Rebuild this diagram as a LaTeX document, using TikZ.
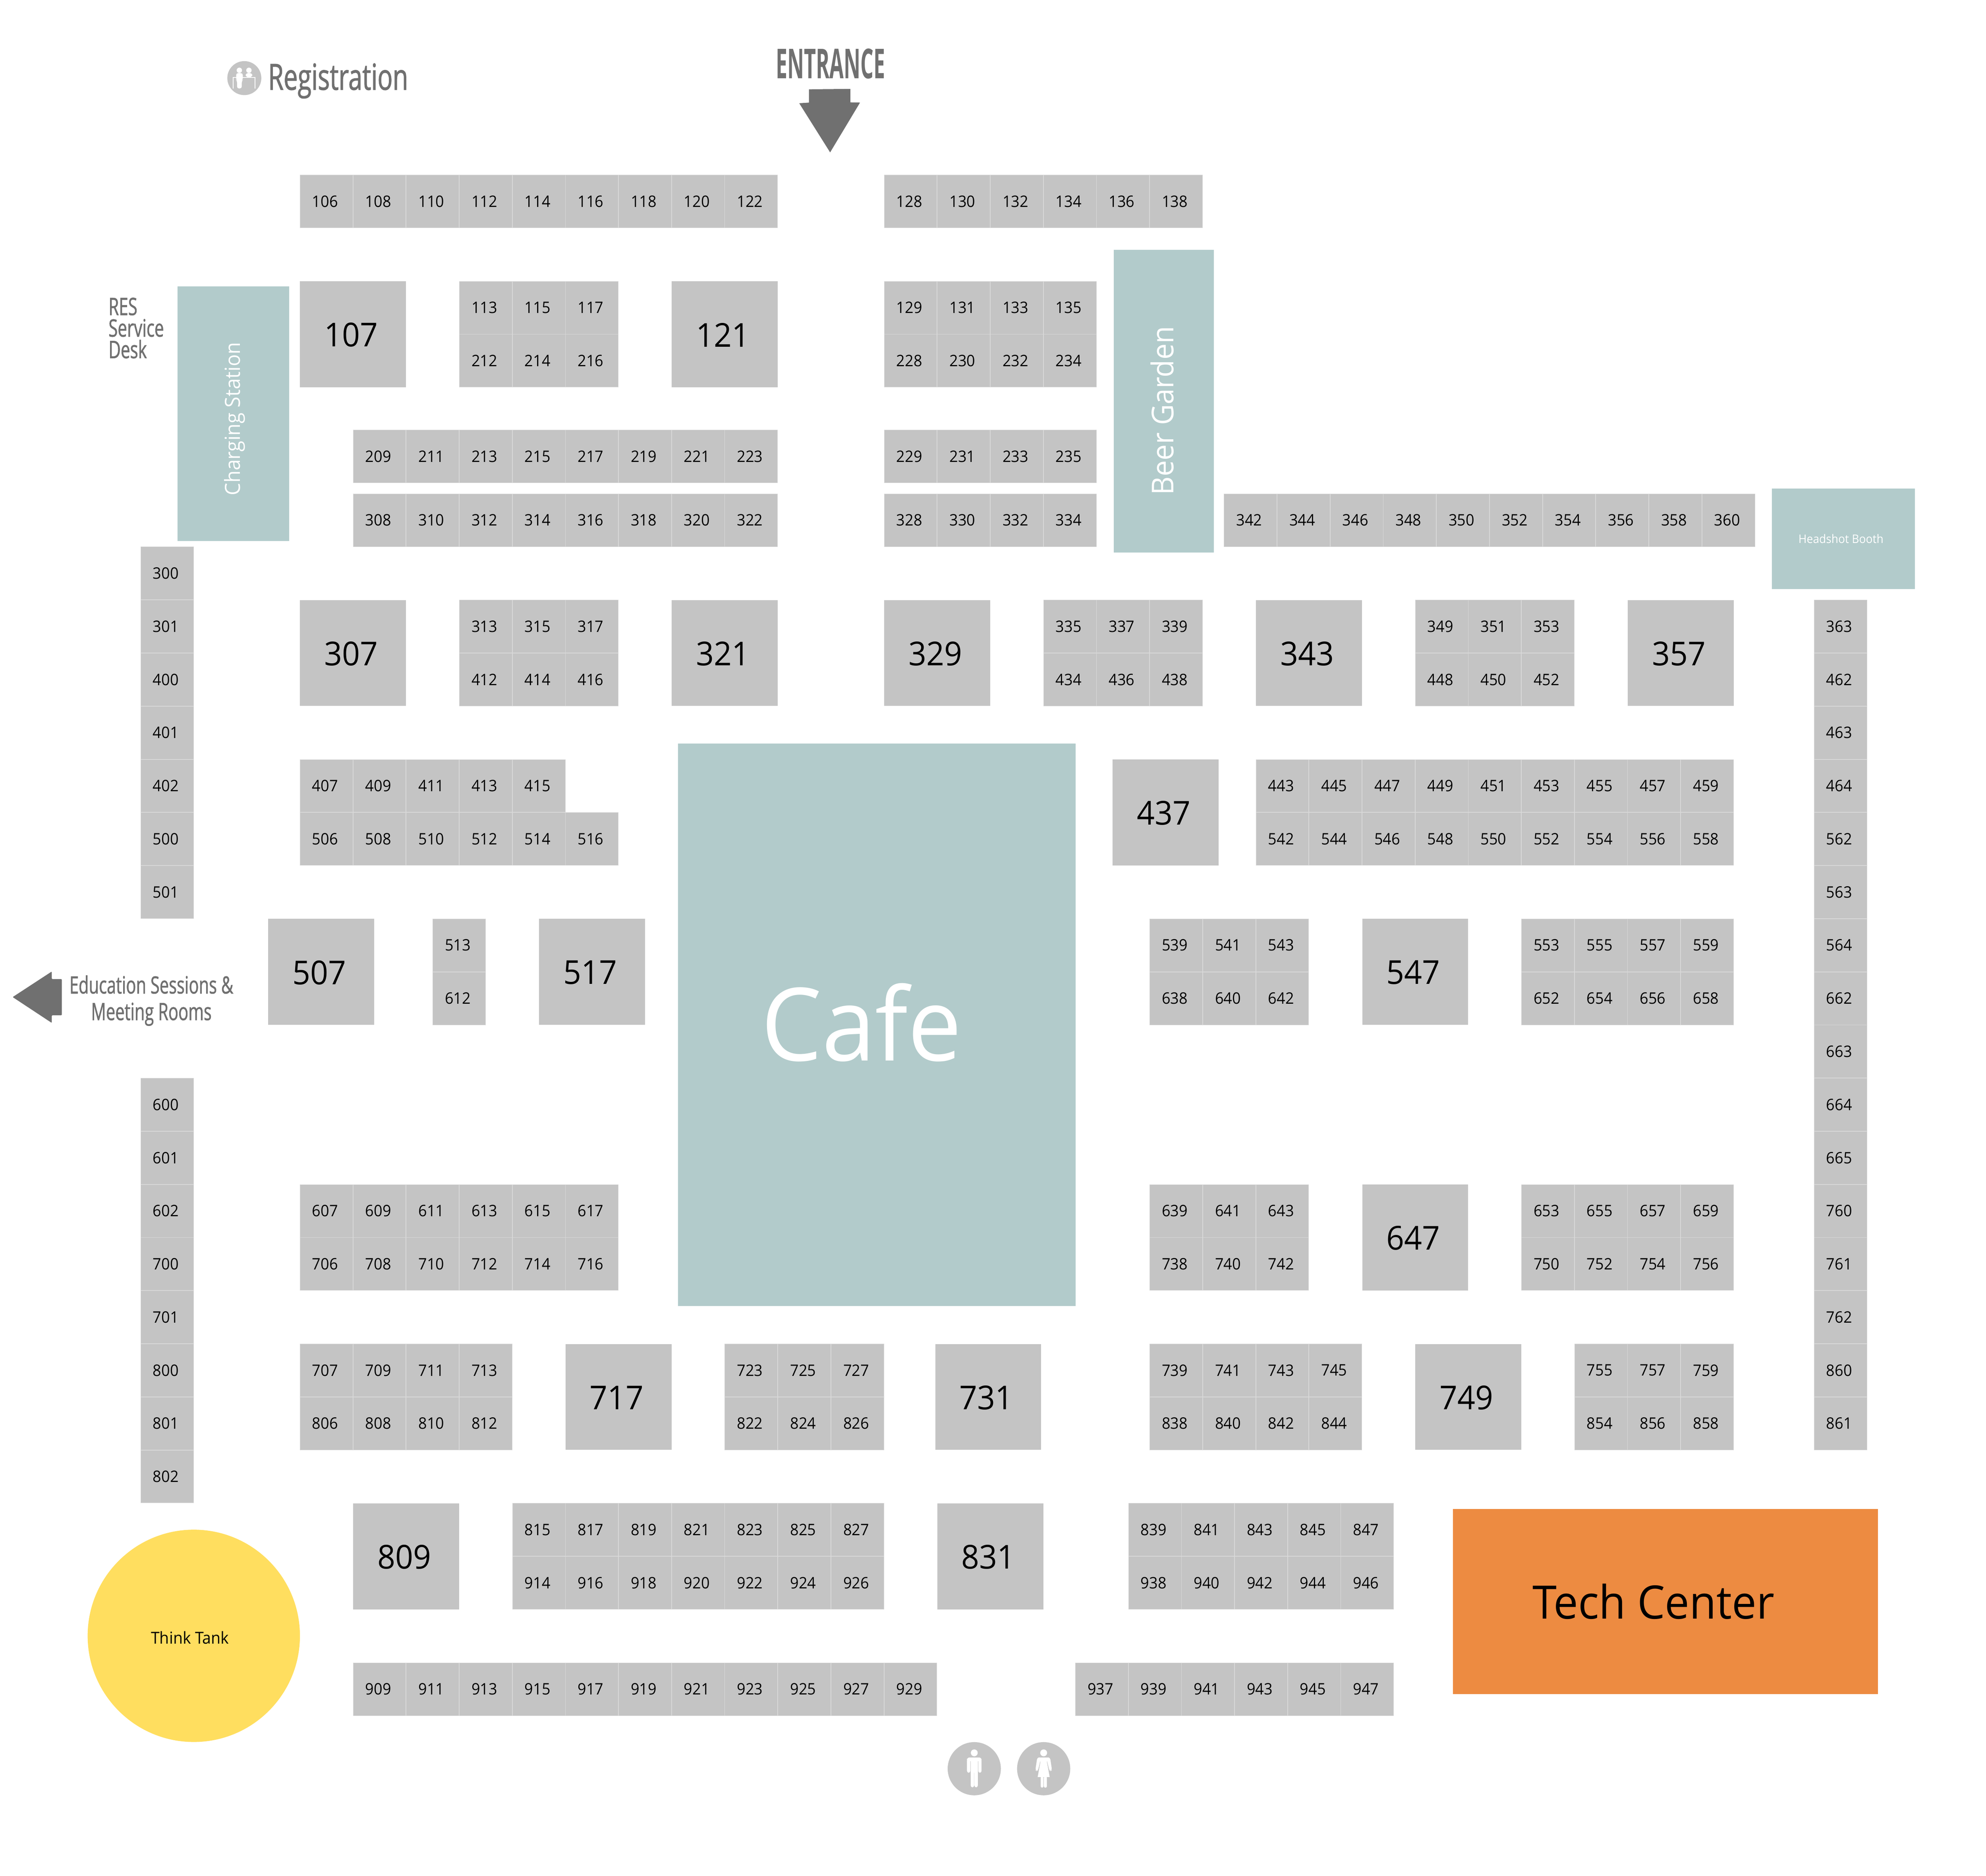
\documentclass[tikz,border=0pt]{standalone}
\usepackage{fontspec}
\setmainfont[FakeStretch=0.95]{Open Sans}
\newfontfamily\condf[FakeStretch=0.695,FakeBold=1.2]{Open Sans}
\newfontfamily\entrf[FakeStretch=0.5]{Open Sans}
\definecolor{boothgray}{HTML}{C4C4C4}
\definecolor{sepgray}{HTML}{D9D9D9}
\definecolor{teal}{HTML}{B2CBCB}
\definecolor{techorange}{HTML}{ED8B41}
\definecolor{tankyellow}{HTML}{FFDE5F}
\definecolor{arrowgray}{HTML}{707070}
\definecolor{signgray}{HTML}{707070}
\def\pitch{41.93}
\def\ypitch{41.95}
\def\xo{236.7}
\def\yo{138}
\tikzset{
  x=1pt,y=-1pt,
  cellbox/.style={rectangle,fill=boothgray,draw=sepgray,line width=0.25pt,inner sep=0pt,anchor=north west,
    minimum width=\pitch pt-0.25pt,minimum height=\pitch pt-0.25pt,text=black,font=\fontsize{12.5}{15}\selectfont},
  bigbox/.style={rectangle,fill=boothgray,inner sep=0pt,anchor=north west,
    minimum width=83.6pt,minimum height=83.6pt},
  biglabel/.style={font=\fontsize{26}{30}\selectfont,text=black},
  areabox/.style={rectangle,fill=teal,inner sep=0pt,anchor=north west},
  whitetext/.style={text=white},
  sign/.style={text=signgray,inner sep=0pt},
  icon/.style={fill=boothgray},
  glyph/.style={fill=white},
}
% c = column, k = row on the booth grid
\newcommand\cellrow[3]{\foreach \lab [count=\i from 0] in {#3} {
  \node[cellbox] (c\lab) at ({\xo+(#1+\i)*\pitch},{\yo+(#2)*\ypitch}) {\hspace*{-2pt}\lab};}}
\newcommand\cellcol[3]{\foreach \lab [count=\i from 0] in {#3} {
  \node[cellbox] (c\lab) at ({\xo+(#1)*\pitch},{\yo+(#2+\i)*\ypitch}) {\hspace*{-2pt}\lab};}}
\newcommand\bigcell[3]{\node[bigbox,label={[biglabel,xshift=-1.5pt,yshift=-0.5pt]center:#3}] (b#3) at ({\xo+(#1)*\pitch},{\yo+(#2)*\ypitch}) {};}
\begin{document}
\begin{tikzpicture}
\useasboundingbox (0,0) rectangle (1568,1481.1);
\fill[white] (0,0) rectangle (1568,1481.1);
% rows
\cellrow{0}{0}{106,108,110,112,114,116,118,120,122}
\cellrow{11}{0}{128,130,132,134,136,138}
\bigcell{0}{2}{107}
\cellrow{3}{2}{113,115,117}
\cellrow{3}{3}{212,214,216}
\bigcell{7}{2}{121}
\cellrow{11}{2}{129,131,133,135}
\cellrow{11}{3}{228,230,232,234}
\cellrow{1}{4.8}{209,211,213,215,217,219,221,223}
\cellrow{11}{4.8}{229,231,233,235}
\cellrow{1}{6}{308,310,312,314,316,318,320,322}
\cellrow{11}{6}{328,330,332,334}
\cellrow{17.4}{6}{342,344,346,348,350,352,354,356,358,360}
\bigcell{0}{8}{307}
\cellrow{3}{8}{313,315,317}
\cellrow{3}{9}{412,414,416}
\bigcell{7}{8}{321}
\bigcell{11}{8}{329}
\cellrow{14}{8}{335,337,339}
\cellrow{14}{9}{434,436,438}
\bigcell{18}{8}{343}
\cellrow{21}{8}{349,351,353}
\cellrow{21}{9}{448,450,452}
\bigcell{25}{8}{357}
\cellrow{0}{11}{407,409,411,413,415}
\cellrow{0}{12}{506,508,510,512,514,516}
\bigcell{15.3}{11}{437}
\cellrow{18}{11}{443,445,447,449,451,453,455,457,459}
\cellrow{18}{12}{542,544,546,548,550,552,554,556,558}
\bigcell{-0.6}{14}{507}
\cellcol{2.5}{14}{513,612}
\bigcell{4.5}{14}{517}
\cellrow{16}{14}{539,541,543}
\cellrow{16}{15}{638,640,642}
\bigcell{20}{14}{547}
\cellrow{23}{14}{553,555,557,559}
\cellrow{23}{15}{652,654,656,658}
\cellrow{0}{19}{607,609,611,613,615,617}
\cellrow{0}{20}{706,708,710,712,714,716}
\cellrow{16}{19}{639,641,643}
\cellrow{16}{20}{738,740,742}
\bigcell{20}{19}{647}
\cellrow{23}{19}{653,655,657,659}
\cellrow{23}{20}{750,752,754,756}
\cellrow{0}{22}{707,709,711,713}
\cellrow{0}{23}{806,808,810,812}
\bigcell{5}{22}{717}
\cellrow{8}{22}{723,725,727}
\cellrow{8}{23}{822,824,826}
\bigcell{11.96}{22}{731}
\cellrow{16}{22}{739,741,743,745}
\cellrow{16}{23}{838,840,842,844}
\bigcell{21}{22}{749}
\cellrow{24}{22}{755,757,759}
\cellrow{24}{23}{854,856,858}
\bigcell{1}{25}{809}
\cellrow{4}{25}{815,817,819,821,823,825,827}
\cellrow{4}{26}{914,916,918,920,922,924,926}
\bigcell{12.0}{25}{831}
\cellrow{15.6}{25}{839,841,843,845,847}
\cellrow{15.6}{26}{938,940,942,944,946}
\cellrow{1}{28}{909,911,913,915,917,919,921,923,925,927,929}
\cellrow{14.6}{28}{937,939,941,943,945,947}
% side columns
\cellcol{-3}{7}{300,301,400,401,402,500,501}
\cellcol{-3}{17}{600,601,602,700,701,800,801,802}
\cellcol{28.51}{8}{363,462,463,464,562,563,564,662,663,664,665,760,761,762,860,861}
% special areas
\node[areabox,minimum width=314pt,minimum height=444pt,
  label={[whitetext,font=\fontsize{80}{90}\selectfont,xshift=-12pt,yshift=2pt]center:Cafe}] (cafe) at (535,587) {};
\node[areabox,minimum width=79pt,minimum height=239pt,
  label={[whitetext,font=\fontsize{23.8}{26}\selectfont,rotate=90,xshift=-7.5pt,yshift=1pt]center:Beer Garden}] (beer) at (879,197) {};
\node[areabox,minimum width=88pt,minimum height=201pt,
  label={[whitetext,font=\fontsize{16.5}{18}\selectfont,rotate=90,xshift=-4pt,yshift=-1pt]center:Charging Station}] (charge) at (140,226) {};
\node[areabox,minimum width=113pt,minimum height=79.3pt,
  label={[whitetext,font=\fontsize{9.3}{11}\selectfont,xshift=-2pt]center:Headshot Booth}] (headshot) at (1398.8,385.6) {};
\node[rectangle,fill=techorange,inner sep=0pt,anchor=north west,minimum width=335.4pt,minimum height=146.2pt,
  label={[text=black,font=\fontsize{36.4}{40}\selectfont,xshift=-9.5pt]center:Tech Center}] (tech) at (1147,1191.2) {};
\node[circle,fill=tankyellow,inner sep=0pt,minimum size=167.6pt,
  label={[text=black,font=\fontsize{13}{15}\selectfont,xshift=-3pt,yshift=-1.5pt]center:Think Tank}] (tank) at (153,1291.5) {};
% signs
\node[sign,anchor=base,font=\entrf\bfseries\fontsize{32.5}{36}\selectfont,text=arrowgray] (entrance) at (655.8,62) {ENTRANCE};
\fill[arrowgray] (638.7,70.5) -- (671.4,70.2) -- (671.4,80.8) -- (679,81) -- (655.4,120.3) -- (631,81.5) -- (638.7,81) -- cycle;
\node[sign,anchor=base west,font=\condf\fontsize{28.5}{32}\selectfont] (registration) at (211.5,70.9) {Registration};
\node[sign,anchor=west,align=left,font=\condf\fontsize{19}{17}\selectfont] (resdesk) at (85.5,259) {RES\\Service\\Desk};
\node[sign,anchor=center,align=center,font=\condf\fontsize{18.8}{21}\selectfont] (education) at (119.5,790) {Education Sessions \&\\Meeting Rooms};
\fill[arrowgray,rounded corners=0.5pt] (10,787.2) -- (40.9,767) -- (40.9,773) -- (48.8,773) -- (48.8,801.6) -- (40.9,801.6) -- (40.9,807.6) -- cycle;
% registration icon
\begin{scope}[shift={(192.9,61.66)},x=.1009pt,y=-.1009pt]
  \fill[icon] (0,0) circle (133);
  \fill[glyph] (-39,-61) circle (21) (36,-61) circle (21);
  % desk
  \fill[glyph] (-90,-8) rectangle (86,-3);
  \fill[glyph] (-90,-8) rectangle (-85,81);
  \fill[glyph] (81,-8) rectangle (86,81);
  % person behind the desk
  \fill[glyph,rounded corners=2pt] (10,-8) -- (10,-39) -- (63,-39) -- (63,-8) -- cycle;
  % person in front of the desk
  \fill[glyph,rounded corners=1.5pt] (-64,-39) -- (-12,-39) -- (-12,14) -- (-20,22) -- (-20,81) -- (-57,81) -- (-57,22) -- (-64,14) -- cycle;
\end{scope}
% restroom icons
\begin{scope}[shift={(769.2,1396.4)},x=.1009pt,y=-.1009pt]
  \fill[icon] (0,0) circle (208);
  \fill[glyph] (0,-124) circle (27);
  \fill[glyph,rounded corners=2pt] (-57,-88) rectangle (57,-58);
  \fill[glyph,rounded corners=1.5pt] (-57,-80) rectangle (-31,32);
  \fill[glyph,rounded corners=1.5pt] (31,-80) rectangle (57,32);
  \fill[glyph,rounded corners=1.5pt] (-28,-80) rectangle (-1,146);
  \fill[glyph,rounded corners=1.5pt] (1,-80) rectangle (28,146);
  \fill[glyph] (-28,-80) rectangle (28,32);
\end{scope}
\begin{scope}[shift={(824,1396.4)},x=.1009pt,y=-.1009pt]
  \fill[icon] (0,0) circle (208);
  \fill[glyph] (0,-124) circle (27);
  \fill[glyph,rounded corners=1.5pt] (-50,-88) -- (-20,-88) -- (-28,-55) -- (-44,12) -- (-55,20) -- (-65,10) -- cycle;
  \fill[glyph,rounded corners=1.5pt] (50,-88) -- (20,-88) -- (28,-55) -- (44,12) -- (55,20) -- (65,10) -- cycle;
  \fill[glyph] (-40,-88) -- (40,-88) -- (25,-55) -- (47,65) -- (-47,65) -- (-25,-55) -- cycle;
  \fill[glyph,rounded corners=1pt] (-23,60) rectangle (-2,148);
  \fill[glyph,rounded corners=1pt] (2,60) rectangle (25,148);
\end{scope}
\end{tikzpicture}
\end{document}
